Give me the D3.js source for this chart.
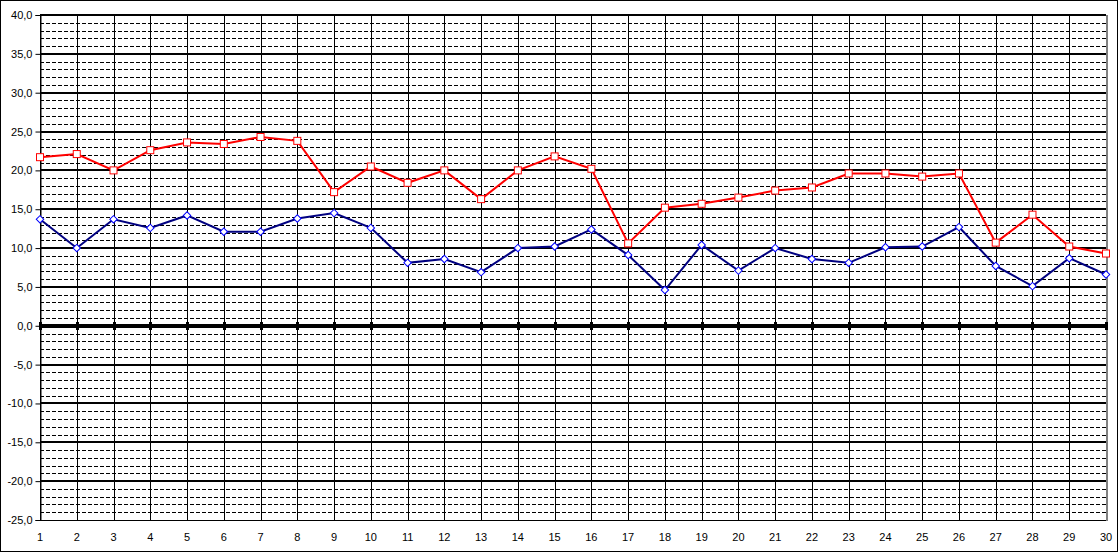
<!DOCTYPE html>
<html><head><meta charset="utf-8">
<script src="https://cdn.jsdelivr.net/npm/d3@7"></script>
<style>body{margin:0;background:#fff}svg{display:block}</style>
</head><body>
<script>
const categories = d3.range(1, 31);
const maxSeries = [21.7,22.1,20.0,22.6,23.6,23.4,24.3,23.8,17.2,20.5,18.4,20.0,16.3,20.0,21.8,20.2,10.6,15.2,15.7,16.5,17.4,17.8,19.6,19.6,19.2,19.6,10.7,14.3,10.2,9.3];
const minSeries = [13.7,10.0,13.7,12.6,14.2,12.1,12.1,13.8,14.5,12.6,8.1,8.6,6.9,10.0,10.2,12.4,9.1,4.6,10.4,7.1,10.0,8.6,8.1,10.1,10.2,12.7,7.7,5.1,8.7,6.6];
const yTicks = [-25,-20,-15,-10,-5,0,5,10,15,20,25,30,35,40];

const W = 1118, H = 552;
const L = 40, R = 1106, T = 15, B = 520;
const svg = d3.select("body").append("svg").attr("width", W).attr("height", H);
svg.append("rect").attr("x",0.5).attr("y",0.5).attr("width",W-1).attr("height",H-1).attr("fill","#fff").attr("stroke","#000");

const x = d3.scalePoint().domain(categories).range([L, R]);
const y = d3.scaleLinear().domain([-25, 40]).range([B, T]);

const g = svg.append("g");
// minor dashed grid
const minors = d3.range(-25, 41).filter(v => v % 5 !== 0);
g.selectAll(".minor").data(minors).enter().append("line")
  .attr("x1", L).attr("x2", R).attr("y1", d => Math.round(y(d)) + 0.5).attr("y2", d => Math.round(y(d)) + 0.5)
  .attr("stroke", "#000").attr("stroke-width", 1).attr("stroke-dasharray", "4,2");
// vertical grid
g.selectAll(".vg").data(categories).enter().append("line")
  .attr("x1", d => Math.round(x(d)) + 0.5).attr("x2", d => Math.round(x(d)) + 0.5)
  .attr("y1", T).attr("y2", B).attr("stroke", "#000").attr("stroke-width", 1);
// major grid
g.selectAll(".major").data(yTicks.filter(v => v !== 0 && v !== -25)).enter().append("line")
  .attr("x1", L).attr("x2", R).attr("y1", d => Math.round(y(d))).attr("y2", d => Math.round(y(d)))
  .attr("stroke", "#000").attr("stroke-width", 2);
// bottom line
g.append("line").attr("x1", L).attr("x2", R).attr("y1", B + 0.5).attr("y2", B + 0.5).attr("stroke", "#000");
// right border gray
g.append("line").attr("x1", R + 1).attr("x2", R + 1).attr("y1", T).attr("y2", B + 1).attr("stroke", "#808080").attr("stroke-width", 2);

// y axis
const yAxis = d3.axisLeft(y).tickValues(yTicks).tickSize(5).tickPadding(3)
  .tickFormat(d => d3.format(".1f")(d).replace(".", ",").replace("−", "-"));
const ya = svg.append("g").attr("transform", `translate(${L + 0.5},0)`).call(yAxis);
ya.select(".domain").attr("stroke", "#000");
ya.selectAll("text").attr("font-family", "Liberation Sans, Arial, sans-serif").attr("font-size", 11).attr("fill", "#000");

// zero axis
const zy = Math.round(y(0));
svg.append("line").attr("x1", L).attr("x2", R).attr("y1", zy).attr("y2", zy).attr("stroke", "#000").attr("stroke-width", 4);
svg.selectAll(".zt").data(categories).enter().append("rect")
  .attr("x", d => Math.round(x(d)) - 1).attr("y", zy - 4).attr("width", 3).attr("height", 8).attr("fill", "#000");

// x labels
svg.selectAll(".xl").data(categories).enter().append("text")
  .attr("x", d => x(d)).attr("y", 541).attr("text-anchor", "middle")
  .attr("font-family", "Liberation Sans, Arial, sans-serif").attr("font-size", 11).attr("fill", "#000")
  .text(d => d);

const line = d3.line().x((d, i) => x(categories[i])).y(d => y(d));
// max series (red)
svg.append("path").datum(maxSeries).attr("d", line).attr("fill", "none").attr("stroke", "#FF0000").attr("stroke-width", 2);
svg.selectAll(".rm").data(maxSeries).enter().append("rect")
  .attr("x", (d, i) => x(categories[i]) - 3.5).attr("y", d => y(d) - 3.5).attr("width", 7).attr("height", 7)
  .attr("fill", "#fff").attr("stroke", "#FF0000").attr("stroke-width", 1);
// min series (navy)
svg.append("path").datum(minSeries).attr("d", line).attr("fill", "none").attr("stroke", "#000080").attr("stroke-width", 2);
svg.selectAll(".bm").data(minSeries).enter().append("path")
  .attr("d", d3.symbol().type(d3.symbolSquare).size(28))
  .attr("transform", (d, i) => `translate(${x(categories[i])},${y(d)}) rotate(45)`)
  .attr("fill", "#fff").attr("stroke", "#0000FF").attr("stroke-width", 1);
</script>
</body></html>
